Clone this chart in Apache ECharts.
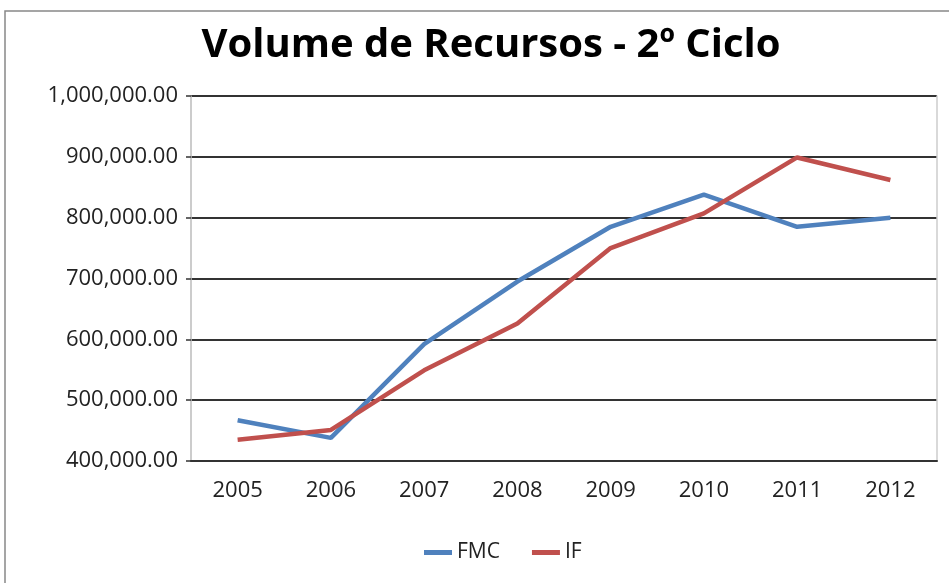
<!DOCTYPE html>
<html>
<head>
<meta charset="utf-8">
<script src="https://cdn.jsdelivr.net/npm/echarts@6/dist/echarts.min.js"></script>
<style>
  html, body { margin: 0; padding: 0; background: #fff; }
  #chart { width: 949px; height: 583px; }
</style>
</head>
<body>
<div id="chart"></div>
<script>
const years = ['2005', '2006', '2007', '2008', '2009', '2010', '2011', '2012'];
const fmcValues = [467000, 438000, 592000, 695000, 785000, 838000, 785000, 800000];
const ifValues = [435000, 451000, 549000, 626000, 750000, 807000, 899000, 862000];
const yTicks = [400000, 500000, 600000, 700000, 800000, 900000, 1000000];

const chart = echarts.init(document.getElementById('chart'));
const labelFont = 'Open Sans, Liberation Sans, sans-serif';

const option = {
  backgroundColor: '#fff',
  animation: false,
  title: {
    text: 'Volume de Recursos - 2º Ciclo',
    left: 486,
    top: 21,
    textAlign: 'center',
    textStyle: {
      fontFamily: labelFont,
      fontSize: 40,
      fontWeight: 'bold',
      color: '#000'
    }
  },
  graphic: [{
    type: 'rect',
    shape: { x: 5, y: 11, width: 960, height: 600 },
    style: { fill: 'none', stroke: '#888', lineWidth: 1.5 },
    silent: true
  }],
  legend: {
    top: 537,
    left: 419,
    icon: 'rect',
    itemWidth: 28,
    itemHeight: 5,
    itemGap: 32,
    textStyle: { fontFamily: labelFont, fontSize: 21, color: '#222' },
    data: ['FMC', 'IF']
  },
  grid: { left: 191, right: 12, top: 96, bottom: 122 },
  xAxis: {
    type: 'category',
    data: years,
    boundaryGap: true,
    axisLine: { lineStyle: { color: '#333', width: 2 } },
    axisTick: { show: false },
    axisLabel: { fontFamily: labelFont, fontSize: 22, color: '#222', margin: 19 }
  },
  yAxis: [
    {
      type: 'value',
      min: yTicks[0],
      max: yTicks[yTicks.length - 1],
      interval: 100000,
      axisLine: { show: true, lineStyle: { color: '#bbb', width: 1.5 } },
      axisTick: { show: true, length: 5, lineStyle: { color: '#333', width: 1.5 } },
      splitLine: { lineStyle: { color: '#333', width: 2 } },
      axisLabel: {
        fontFamily: labelFont,
        fontSize: 22,
        color: '#222',
        margin: 13,
        formatter: v => v.toLocaleString('en-US', { minimumFractionDigits: 2, maximumFractionDigits: 2 })
      }
    },
    {
      type: 'value',
      position: 'right',
      min: yTicks[0],
      max: yTicks[yTicks.length - 1],
      interval: 100000,
      axisLine: { show: true, lineStyle: { color: '#ccc', width: 1.5 } },
      axisTick: { show: false },
      axisLabel: { show: false },
      splitLine: { show: false }
    }
  ],
  series: [
    {
      name: 'FMC',
      type: 'line',
      data: fmcValues,
      symbol: 'none',
      color: '#4F81BD',
      lineStyle: { width: 4.5, color: '#4F81BD' }
    },
    {
      name: 'IF',
      type: 'line',
      data: ifValues,
      symbol: 'none',
      color: '#C0504D',
      lineStyle: { width: 4.5, color: '#C0504D' }
    }
  ]
};
chart.setOption(option);
</script>
</body>
</html>
